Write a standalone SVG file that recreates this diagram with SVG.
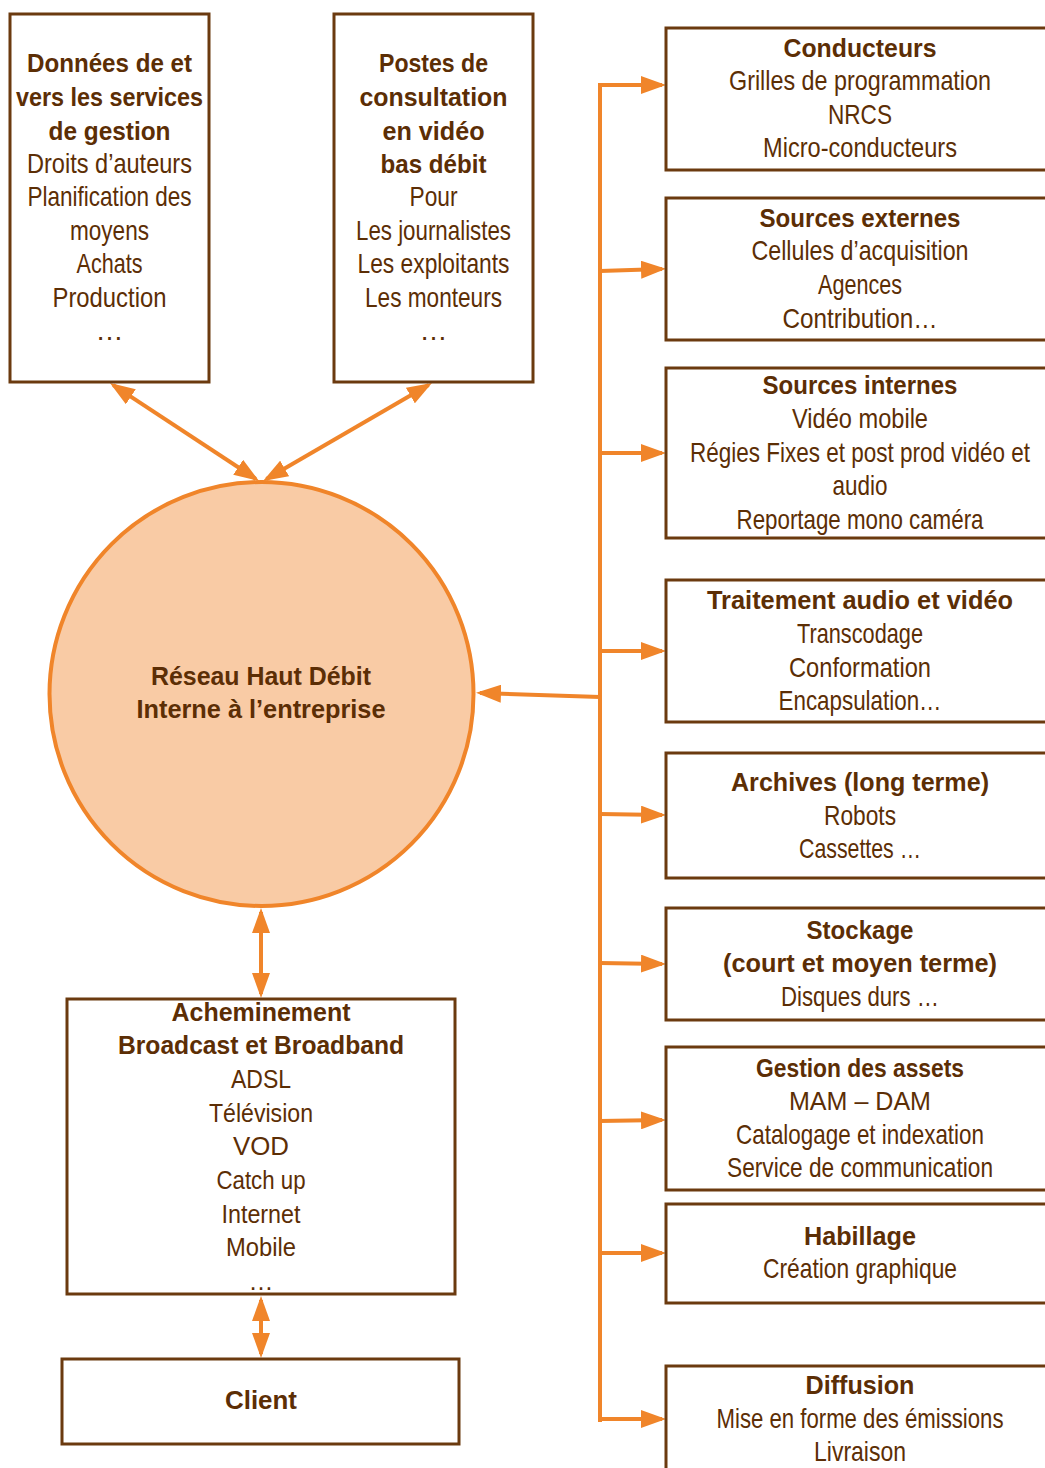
<svg xmlns="http://www.w3.org/2000/svg" width="1045" height="1468" viewBox="0 0 1045 1468">
<style>
.box{fill:#fff;stroke:#6b3a0f;stroke-width:3}
.b{font-family:"Liberation Sans",Arial,sans-serif;font-weight:bold;font-size:26px;fill:#5c2e05;text-anchor:middle}
.r{font-family:"Liberation Sans",Arial,sans-serif;font-size:28px;fill:#5c2e05;text-anchor:middle}
.r2{font-family:"Liberation Sans",Arial,sans-serif;font-size:25px;fill:#5c2e05;text-anchor:middle}
.b2{font-family:"Liberation Sans",Arial,sans-serif;font-weight:bold;font-size:25px;fill:#5c2e05;text-anchor:middle}
.c{stroke:#f0852a;stroke-width:4;fill:none}
.ca{stroke:#f0852a;stroke-width:4;fill:none;marker-end:url(#ah)}
.cb{stroke:#f0852a;stroke-width:4;fill:none;marker-end:url(#ah);marker-start:url(#ah)}
</style>
<defs>
<marker id="ah" viewBox="0 0 25 18" refX="21" refY="9" markerWidth="25" markerHeight="18" markerUnits="userSpaceOnUse" orient="auto-start-reverse">
<path d="M0,0 L25,9 L0,18 z" fill="#f0852a"/>
</marker>
</defs>

<g id="connectors">
<line class="cb" x1="113.3" y1="385.2" x2="255.7" y2="478.8"/>
<line class="cb" x1="428.5" y1="385.0" x2="266.5" y2="479.0"/>
<line class="c" x1="600" y1="83" x2="600" y2="1422"/>
<line class="ca" x1="598" y1="85" x2="662" y2="85"/>
<line class="ca" x1="600" y1="271" x2="662" y2="269"/>
<line class="ca" x1="600" y1="453" x2="662" y2="453"/>
<line class="ca" x1="600" y1="651" x2="662" y2="651"/>
<line class="ca" x1="600" y1="814" x2="662" y2="815"/>
<line class="ca" x1="600" y1="963" x2="662" y2="964"/>
<line class="ca" x1="600" y1="1121" x2="662" y2="1120"/>
<line class="ca" x1="600" y1="1253" x2="662" y2="1253"/>
<line class="ca" x1="598" y1="1419" x2="662" y2="1419"/>
<line class="ca" x1="600" y1="697" x2="480" y2="693"/>
<line class="cb" x1="261" y1="912" x2="261" y2="994"/>
<line class="cb" x1="261" y1="1300" x2="261" y2="1354"/>
</g>

<g id="node-donnees">
<rect class="box" x="10" y="14" width="199" height="368"/>
<text class="b" x="109.5" y="72" textLength="165" lengthAdjust="spacingAndGlyphs">Données de et</text>
<text class="b" x="109.5" y="106" textLength="187" lengthAdjust="spacingAndGlyphs">vers les services</text>
<text class="b" x="109.5" y="140" textLength="122" lengthAdjust="spacingAndGlyphs">de gestion</text>
<text class="r" x="109.5" y="173" textLength="165" lengthAdjust="spacingAndGlyphs">Droits d’auteurs</text>
<text class="r" x="109.5" y="206" textLength="164" lengthAdjust="spacingAndGlyphs">Planification des</text>
<text class="r" x="109.5" y="240" textLength="79" lengthAdjust="spacingAndGlyphs">moyens</text>
<text class="r" x="109.5" y="273" textLength="66" lengthAdjust="spacingAndGlyphs">Achats</text>
<text class="r" x="109.5" y="307" textLength="114" lengthAdjust="spacingAndGlyphs">Production</text>
<text class="r" x="109.5" y="340" font-size="20">…</text>
</g>

<g id="node-postes">
<rect class="box" x="334" y="14" width="199" height="368"/>
<text class="b" x="433.5" y="72" textLength="109" lengthAdjust="spacingAndGlyphs">Postes de</text>
<text class="b" x="433.5" y="106" textLength="148" lengthAdjust="spacingAndGlyphs">consultation</text>
<text class="b" x="433.5" y="140" textLength="102" lengthAdjust="spacingAndGlyphs">en vidéo</text>
<text class="b" x="433.5" y="173" textLength="106" lengthAdjust="spacingAndGlyphs">bas débit</text>
<text class="r" x="433.5" y="206" textLength="48" lengthAdjust="spacingAndGlyphs">Pour</text>
<text class="r" x="433.5" y="240" textLength="155" lengthAdjust="spacingAndGlyphs">Les journalistes</text>
<text class="r" x="433.5" y="273" textLength="152" lengthAdjust="spacingAndGlyphs">Les exploitants</text>
<text class="r" x="433.5" y="307" textLength="137" lengthAdjust="spacingAndGlyphs">Les monteurs</text>
<text class="r" x="433.5" y="340" font-size="20">…</text>
</g>

<g id="node-reseau">
<circle cx="261.5" cy="694" r="212" fill="#f9cba5" stroke="#f0852a" stroke-width="4"/>
<text class="b" x="261" y="685" textLength="220" lengthAdjust="spacingAndGlyphs">Réseau Haut Débit</text>
<text class="b" x="261" y="718" textLength="249" lengthAdjust="spacingAndGlyphs">Interne à l’entreprise</text>
</g>

<g id="node-acheminement">
<rect class="box" x="67" y="999" width="388" height="295"/>
<text class="b2" x="261" y="1021" textLength="179" lengthAdjust="spacingAndGlyphs">Acheminement</text>
<text class="b2" x="261" y="1054" textLength="286" lengthAdjust="spacingAndGlyphs">Broadcast et Broadband</text>
<text class="r2" x="261" y="1088" textLength="60" lengthAdjust="spacingAndGlyphs">ADSL</text>
<text class="r2" x="261" y="1122" textLength="104" lengthAdjust="spacingAndGlyphs">Télévision</text>
<text class="r2" x="261" y="1155" textLength="56" lengthAdjust="spacingAndGlyphs">VOD</text>
<text class="r2" x="261" y="1189" textLength="89" lengthAdjust="spacingAndGlyphs">Catch up</text>
<text class="r2" x="261" y="1223" textLength="79" lengthAdjust="spacingAndGlyphs">Internet</text>
<text class="r2" x="261" y="1256" textLength="70" lengthAdjust="spacingAndGlyphs">Mobile</text>
<text class="r2" x="261" y="1290" font-size="20">…</text>
</g>

<g id="node-client">
<rect class="box" x="62" y="1359" width="397" height="85"/>
<text class="b2" x="261" y="1409" textLength="72" lengthAdjust="spacingAndGlyphs">Client</text>
</g>

<g id="node-conducteurs">
<rect class="box" x="666" y="28" width="420" height="142"/>
<text class="b" x="860" y="57" textLength="153" lengthAdjust="spacingAndGlyphs">Conducteurs</text>
<text class="r" x="860" y="90" textLength="262" lengthAdjust="spacingAndGlyphs">Grilles de programmation</text>
<text class="r" x="860" y="124" textLength="64" lengthAdjust="spacingAndGlyphs">NRCS</text>
<text class="r" x="860" y="157" textLength="194" lengthAdjust="spacingAndGlyphs">Micro-conducteurs</text>
</g>

<g id="node-sources-externes">
<rect class="box" x="666" y="198" width="420" height="142"/>
<text class="b" x="860" y="227" textLength="201" lengthAdjust="spacingAndGlyphs">Sources externes</text>
<text class="r" x="860" y="260" textLength="217" lengthAdjust="spacingAndGlyphs">Cellules d’acquisition</text>
<text class="r" x="860" y="294" textLength="84" lengthAdjust="spacingAndGlyphs">Agences</text>
<text class="r" x="860" y="328" textLength="155" lengthAdjust="spacingAndGlyphs">Contribution…</text>
</g>

<g id="node-sources-internes">
<rect class="box" x="666" y="368" width="420" height="170"/>
<text class="b" x="860" y="394" textLength="195" lengthAdjust="spacingAndGlyphs">Sources internes</text>
<text class="r" x="860" y="428" textLength="136" lengthAdjust="spacingAndGlyphs">Vidéo mobile</text>
<text class="r" x="860" y="462" textLength="340" lengthAdjust="spacingAndGlyphs">Régies Fixes et post prod vidéo et</text>
<text class="r" x="860" y="495" textLength="55" lengthAdjust="spacingAndGlyphs">audio</text>
<text class="r" x="860" y="529" textLength="247" lengthAdjust="spacingAndGlyphs">Reportage mono caméra</text>
</g>

<g id="node-traitement">
<rect class="box" x="666" y="580" width="420" height="142"/>
<text class="b" x="860" y="609" textLength="306" lengthAdjust="spacingAndGlyphs">Traitement audio et vidéo</text>
<text class="r" x="860" y="643" textLength="126" lengthAdjust="spacingAndGlyphs">Transcodage</text>
<text class="r" x="860" y="677" textLength="142" lengthAdjust="spacingAndGlyphs">Conformation</text>
<text class="r" x="860" y="710" textLength="163" lengthAdjust="spacingAndGlyphs">Encapsulation…</text>
</g>

<g id="node-archives">
<rect class="box" x="666" y="753" width="420" height="125"/>
<text class="b" x="860" y="791" textLength="258" lengthAdjust="spacingAndGlyphs">Archives (long terme)</text>
<text class="r" x="860" y="825" textLength="72" lengthAdjust="spacingAndGlyphs">Robots</text>
<text class="r" x="860" y="858" textLength="122" lengthAdjust="spacingAndGlyphs">Cassettes …</text>
</g>

<g id="node-stockage">
<rect class="box" x="666" y="908" width="420" height="112"/>
<text class="b" x="860" y="939" textLength="107" lengthAdjust="spacingAndGlyphs">Stockage</text>
<text class="b" x="860" y="972" textLength="274" lengthAdjust="spacingAndGlyphs">(court et moyen terme)</text>
<text class="r" x="860" y="1006" textLength="158" lengthAdjust="spacingAndGlyphs">Disques durs …</text>
</g>

<g id="node-gestion">
<rect class="box" x="666" y="1047" width="420" height="143"/>
<text class="b" x="860" y="1077" textLength="208" lengthAdjust="spacingAndGlyphs">Gestion des assets</text>
<text class="r2" x="860" y="1110" textLength="142" lengthAdjust="spacingAndGlyphs">MAM – DAM</text>
<text class="r" x="860" y="1144" textLength="248" lengthAdjust="spacingAndGlyphs">Catalogage et indexation</text>
<text class="r" x="860" y="1177" textLength="266" lengthAdjust="spacingAndGlyphs">Service de communication</text>
</g>

<g id="node-habillage">
<rect class="box" x="666" y="1204" width="420" height="99"/>
<text class="b" x="860" y="1245" textLength="112" lengthAdjust="spacingAndGlyphs">Habillage</text>
<text class="r" x="860" y="1278" textLength="194" lengthAdjust="spacingAndGlyphs">Création graphique</text>
</g>

<g id="node-diffusion">
<rect class="box" x="666" y="1366" width="420" height="130"/>
<text class="b" x="860" y="1394" textLength="109" lengthAdjust="spacingAndGlyphs">Diffusion</text>
<text class="r" x="860" y="1428" textLength="287" lengthAdjust="spacingAndGlyphs">Mise en forme des émissions</text>
<text class="r" x="860" y="1461" textLength="92" lengthAdjust="spacingAndGlyphs">Livraison</text>
</g>
</svg>
